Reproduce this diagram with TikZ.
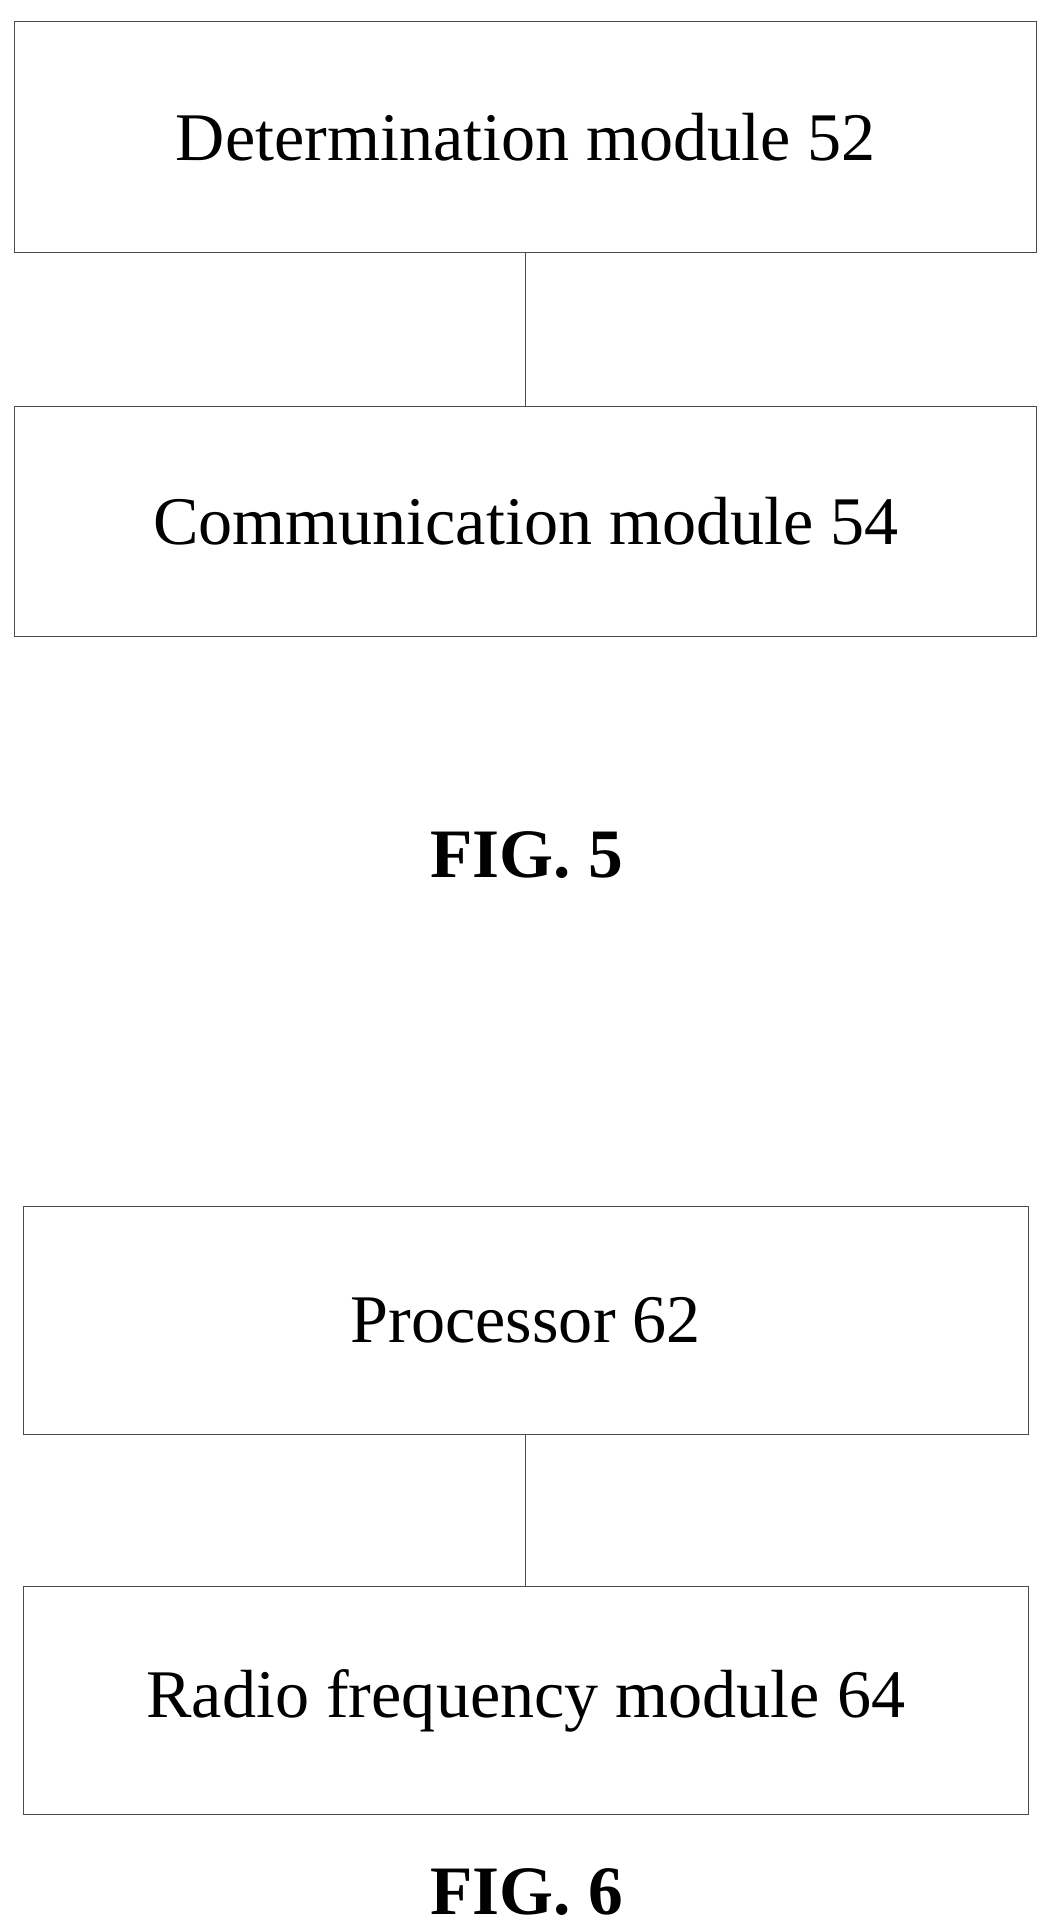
\documentclass[tikz,border=0pt]{standalone}
\usepackage{fontspec}
\setmainfont{Liberation Serif}
\usetikzlibrary{positioning}

\begin{document}
\begin{tikzpicture}[x=1pt,y=-1pt,
  modbox/.style={draw=black!70, line width=0.8pt, minimum height=186pt, font=\fontsize{55}{64}\selectfont},
  figlabel/.style={font=\bfseries\fontsize{56}{64}\selectfont}]
\useasboundingbox (0,0) rectangle (850,1558);

\node (determination) [modbox, minimum width=825pt] at (424.5,110.5) {Determination module 52};
\node (communication) [modbox, minimum width=825pt] at (424.5,421) {Communication module 54};
\node (fig5) [figlabel] at (425,690) {FIG. 5};

\node (processor) [modbox, minimum width=811pt, minimum height=184pt] at (424.5,1066) {Processor 62};
\node (radio) [modbox, minimum width=811pt, minimum height=184pt] at (424.5,1373) {Radio frequency module 64};
\node (fig6) [figlabel] at (425,1527) {FIG. 6};

\draw[black!70, line width=0.8pt] (determination.south) -- (communication.north);
\draw[black!70, line width=0.8pt] (processor.south) -- (radio.north);

\end{tikzpicture}
\end{document}
